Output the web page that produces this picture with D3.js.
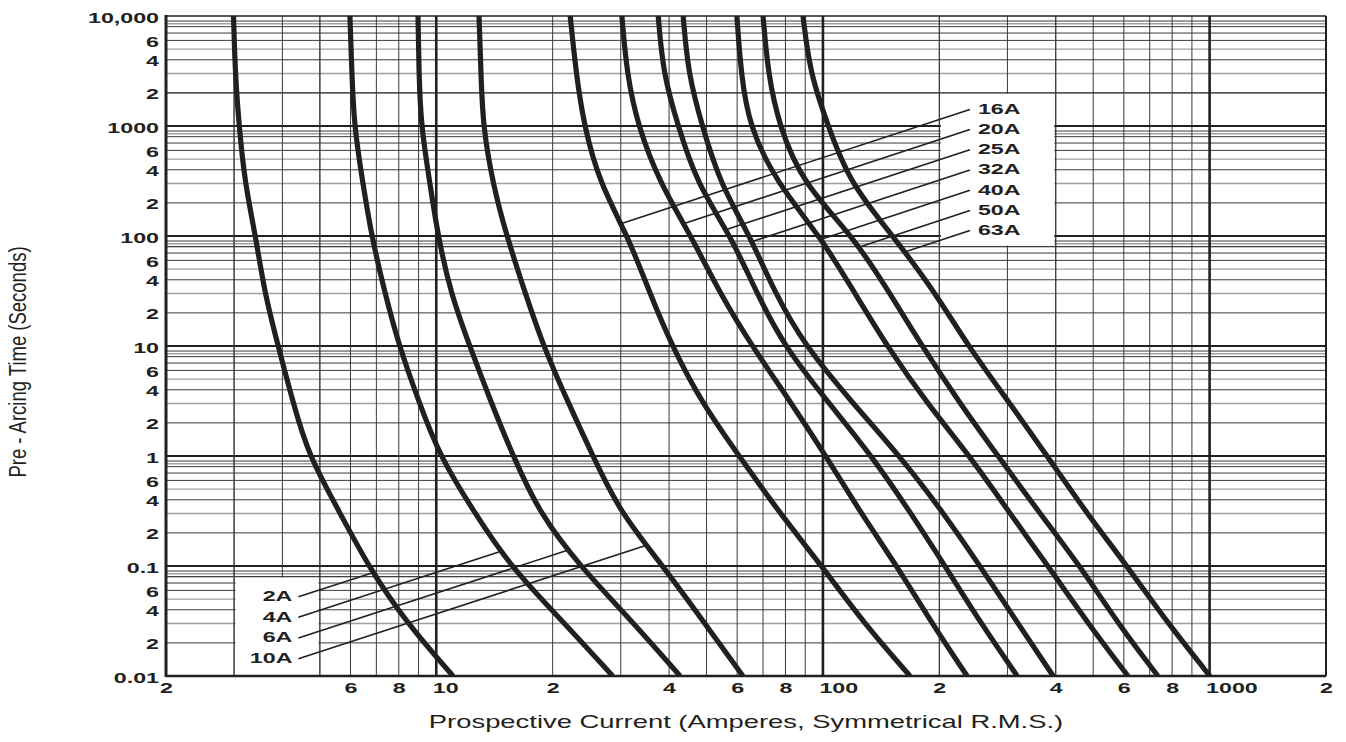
<!DOCTYPE html>
<html>
<head>
<meta charset="utf-8">
<script src="https://cdn.jsdelivr.net/npm/d3@7"></script>
<style>
  html, body { margin: 0; padding: 0; background: #fff; }
  svg text { font-family: "Liberation Sans", Arial, Helvetica, sans-serif; fill: #231f20; }
</style>
</head>
<body>
<svg id="chart" width="1346" height="742"></svg>
<script>
var times = [10000, 3000, 1000, 300, 100, 30, 10, 3, 1, 0.3, 0.1, 0.03, 0.01];

// prospective current (A) for each fuse rating, one value per time above
var amps2A  = [2.99, 3.02, 3.09, 3.20, 3.41, 3.60, 3.90, 4.27, 4.68, 5.65, 6.66, 8.40, 11.05];
var amps4A  = [5.98, 6.05, 6.13, 6.46, 6.80, 7.37, 8.01, 9.05, 10.2, 12.6, 15.5, 21.5, 28.6];
var amps6A  = [8.97, 9.02, 9.13, 9.63, 10.1, 10.9, 12.2, 13.9, 15.8, 18.5, 23.5, 32.5, 42.7];
var amps10A = [12.9, 13.05, 13.2, 14.0, 15.2, 17.0, 18.9, 22.0, 25.4, 30.0, 38.6, 49.5, 62.1];
var amps16A = [22.2, 23.0, 24.1, 26.5, 31.3, 35.7, 40.7, 48.7, 60.7, 77.4, 99.4, 127.7, 168];
var amps20A = [30.2, 31.1, 33.2, 37.9, 45.6, 54.2, 65.5, 83.0, 101.8, 125.5, 155.4, 191.4, 236];
var amps25A = [37.5, 38.6, 42.2, 47.2, 57.8, 67.5, 79.3, 103.7, 133.9, 169.0, 206.9, 256.4, 318];
var amps32A = [43.5, 44.8, 48.7, 54.2, 64.8, 75.2, 89.9, 119.6, 158.2, 205.6, 254.8, 319.4, 394];
var amps40A = [59.9, 61.4, 64.4, 76.1, 98.3, 121.1, 146.4, 185.9, 240, 304.6, 382, 485, 615];
var amps50A = [70.0, 72.1, 77.0, 88.8, 119.6, 149.1, 180.4, 226.2, 283.6, 364.2, 462.2, 579.6, 735];
var amps63A = [88.8, 92.6, 103.1, 117.5, 151.8, 196.0, 237.2, 304.6, 379.8, 481.8, 611.4, 780.6, 1002];

var ratings = ["2A", "4A", "6A", "10A", "16A", "20A", "25A", "32A", "40A", "50A", "63A"];
var series = [amps2A, amps4A, amps6A, amps10A, amps16A, amps20A, amps25A, amps32A, amps40A, amps50A, amps63A];

// tick values and their printed labels
var xTicks = [2, 6, 8, 10, 20, 40, 60, 80, 100, 200, 400, 600, 800, 1000, 2000];
var xTickLabels = ["2", "6", "8", "10", "2", "4", "6", "8", "100", "2", "4", "6", "8", "1000", "2"];
var yTicks = [10000, 6000, 4000, 2000, 1000, 600, 400, 200, 100, 60, 40, 20, 10, 6, 4, 2,
              1, 0.6, 0.4, 0.2, 0.1, 0.06, 0.04, 0.02, 0.01];
var yTickLabels = ["10,000", "6", "4", "2", "1000", "6", "4", "2", "100", "6", "4", "2", "10", "6", "4", "2",
                   "1", "6", "4", "2", "0.1", "6", "4", "2", "0.01"];

var ink = "#231f20";
var stretch = "scale(1.55,1)";   // the original lettering is wide

var svg = d3.select("#chart");
var mL = 166, mR = 1326, mT = 16, mB = 676;

var x = d3.scaleLog().domain([2, 2000]).range([mL, mR]);
var y = d3.scaleLog().domain([0.01, 10000]).range([mB, mT]);

// grid lines
var vMinor = [], vMajor = [10, 100, 1000];
[1, 10, 100, 1000].forEach(function(dec) {
  for (var m = 1; m <= 9; m++) {
    var v = m * dec;
    if (v > 2 && v < 2000 && vMajor.indexOf(v) < 0) vMinor.push(v);
  }
});
var hMinor = [], hGrey = [], hMajor = [0.1, 1, 10, 100, 1000];
[0.01, 0.1, 1, 10, 100, 1000].forEach(function(dec) {
  [2, 4, 6, 7, 8, 9].forEach(function(m) { hMinor.push(m * dec); });
  [3, 5, 8.5].forEach(function(m) { hGrey.push(m * dec); });
});

var grid = svg.append("g");
function hLines(sel, vals, col, w) {
  sel.append("g").selectAll("line").data(vals).enter().append("line")
    .attr("x1", mL).attr("x2", mR)
    .attr("y1", function(d) { return y(d); }).attr("y2", function(d) { return y(d); })
    .attr("stroke", col).attr("stroke-width", w);
}
function vLines(sel, vals, col, w) {
  sel.append("g").selectAll("line").data(vals).enter().append("line")
    .attr("y1", mT).attr("y2", mB)
    .attr("x1", function(d) { return x(d); }).attr("x2", function(d) { return x(d); })
    .attr("stroke", col).attr("stroke-width", w);
}
hLines(grid, hGrey, "#a0a0a0", 1.4);
hLines(grid, hMinor, "#3a3a3a", 1);
vLines(grid, vMinor, "#3a3a3a", 1);
hLines(grid, hMajor, ink, 2);

// blank panels behind the labels
svg.append("rect")
  .attr("x", x(200) + 1.5).attr("y", y(2000) + 1)
  .attr("width", x(400) - x(200) - 3).attr("height", y(80) - y(2000) - 2)
  .attr("fill", "#fff");
svg.append("rect")
  .attr("x", x(3) + 1.5).attr("y", y(0.08) + 1)
  .attr("width", x(5) - x(3) - 3).attr("height", y(0.01) - y(0.08) - 1)
  .attr("fill", "#fff");

// lines along the panel edges and the heavy decade verticals
vLines(svg, [200, 400, 3, 5], "#3a3a3a", 1);
hLines(svg, [2000, 80, 0.08], "#3a3a3a", 1);
vLines(svg, vMajor, ink, 2.6);

// frame
svg.append("line").attr("x1", mL).attr("x2", mR).attr("y1", mT).attr("y2", mT)
  .attr("stroke", ink).attr("stroke-width", 1.6);
svg.append("line").attr("x1", mR).attr("x2", mR).attr("y1", mT).attr("y2", mB)
  .attr("stroke", ink).attr("stroke-width", 2);
svg.append("line").attr("x1", mL).attr("x2", mR).attr("y1", mB).attr("y2", mB)
  .attr("stroke", ink).attr("stroke-width", 2.6);
svg.append("line").attr("x1", mL).attr("x2", mL).attr("y1", mT - 1).attr("y2", mB + 1)
  .attr("stroke", ink).attr("stroke-width", 3);

// axes
var yAxis = svg.append("g").attr("transform", "translate(" + mL + ",0)")
  .call(d3.axisLeft(y).tickValues(yTicks).tickSize(0).tickPadding(4.5)
    .tickFormat(function(d, i) { return yTickLabels[i]; }));
yAxis.select(".domain").remove();
yAxis.selectAll("text")
  .attr("transform", stretch).attr("dy", "0.4em")
  .style("font-size", "15px").style("font-weight", "bold").attr("fill", ink);

var xAxis = svg.append("g").attr("transform", "translate(0," + mB + ")")
  .call(d3.axisBottom(x).tickValues(xTicks).tickSize(0).tickPadding(6)
    .tickFormat(function(d, i) { return xTickLabels[i]; }));
xAxis.select(".domain").remove();
xAxis.selectAll("text")
  .attr("transform", stretch)
  .style("font-size", "15px").style("font-weight", "bold").attr("fill", ink)
  .each(function(d, i) {
    if (xTickLabels[i].length > 1) {
      d3.select(this).attr("text-anchor", "start").attr("x", -4 / 1.55);
    }
  });

// curves
svg.append("clipPath").attr("id", "plot").append("rect")
  .attr("x", mL).attr("y", mT).attr("width", mR - mL).attr("height", mB - mT);

var line = d3.line()
  .x(function(d) { return x(d[0]); })
  .y(function(d) { return y(d[1]); })
  .curve(d3.curveBasis);

var curves = svg.append("g").attr("clip-path", "url(#plot)");
var paths = series.map(function(amps) {
  var pts = amps.map(function(a, i) { return [a, times[i]]; });
  return curves.append("path").datum(pts)
    .attr("d", line)
    .attr("fill", "none").attr("stroke", ink).attr("stroke-width", 5.2);
});

// leader lines: all share one slope and run from the label to where they meet the curve
var slope = -0.327;
function meet(pathSel, x0, y0) {
  var node = pathSel.node(), len = node.getTotalLength();
  var prev = null;
  for (var s = 0; s <= len; s += 0.5) {
    var p = node.getPointAtLength(s);
    var g = p.y - (y0 + slope * (p.x - x0));
    if (prev !== null && prev.g < 0 && g >= 0) return p;
    prev = { g: g, p: p };
  }
  return prev.p;
}

var leaders = svg.append("g");
var labels = svg.append("g").style("font-size", "15px").style("font-weight", "bold");

var upX = x(240), upY = y(2000) + 15.5, upStep = 20.2;
var lowX = x(4.4), lowY = y(0.08) + 19, lowStep = 20.7;

ratings.forEach(function(r, i) {
  var upper = i >= 4;
  var k = upper ? i - 4 : i;
  var ly = upper ? upY + k * upStep : lowY + k * lowStep;
  var lx = upper ? upX : lowX;
  var hit = meet(paths[i], lx, ly + 1);
  leaders.append("line")
    .attr("x1", lx).attr("y1", ly + 1)
    .attr("x2", hit.x).attr("y2", hit.y)
    .attr("stroke", ink).attr("stroke-width", 1.6);
  labels.append("text")
    .attr("transform", "translate(" + (upper ? lx + 8 : lx - 6) + "," + ly + ") " + stretch)
    .attr("dy", "0.36em")
    .attr("text-anchor", upper ? "start" : "end")
    .text(r);
});

// axis titles
svg.append("text")
  .attr("transform", "translate(746,728) scale(1.48,1)")
  .attr("text-anchor", "middle")
  .style("font-size", "18.5px")
  .text("Prospective Current (Amperes, Symmetrical R.M.S.)");
svg.append("text")
  .attr("transform", "translate(26,362) scale(1.3,1) rotate(-90)")
  .attr("text-anchor", "middle")
  .style("font-size", "18.5px")
  .text("Pre - Arcing Time (Seconds)");
</script>
</body>
</html>
